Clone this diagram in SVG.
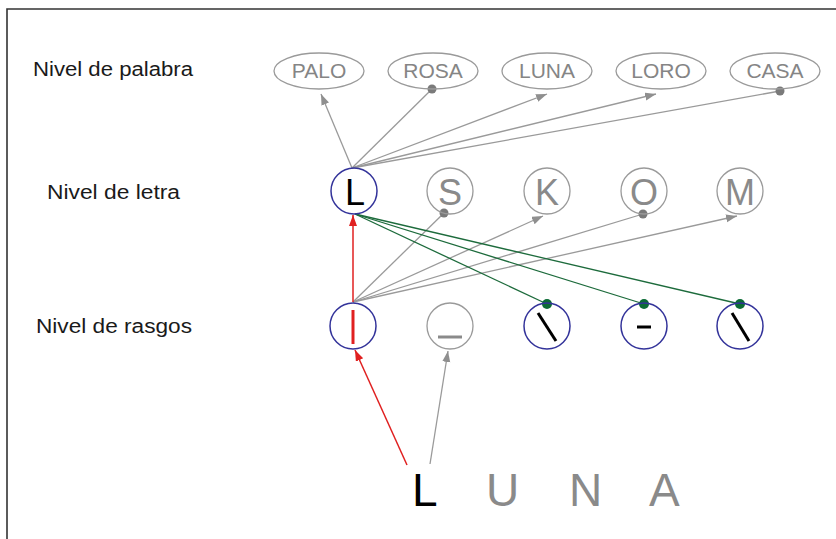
<svg xmlns="http://www.w3.org/2000/svg" width="836" height="539" viewBox="0 0 836 539">
  <style>
    .lbl { font-family: "Liberation Sans", Arial, sans-serif; font-size: 20px; fill: #1a1a1a; }
    .word { fill: none; stroke: #9a9a9a; stroke-width: 1.3; }
    .wtxt { font-family: "Liberation Sans", Arial, sans-serif; font-size: 21px; fill: #858585; text-anchor: middle; }
    .ltr-on { fill: none; stroke: #33339a; stroke-width: 1.5; }
    .ltr-off { fill: none; stroke: #9a9a9a; stroke-width: 1.3; }
    .ltxt { font-family: "Liberation Sans", Arial, sans-serif; font-size: 36px; text-anchor: middle; }
    .big { font-family: "Liberation Sans", Arial, sans-serif; font-size: 46px; fill: #8a8a8a; }
    .gray { stroke: #9a9a9a; stroke-width: 1.3; fill: none; }
    .green { stroke: #1d6b3c; stroke-width: 1.3; fill: none; }
    .red { stroke: #e02020; stroke-width: 1.5; fill: none; }
    .gdot { fill: #7a7a7a; }
    .ndot { fill: #0b6b35; }
  </style>
  <defs>
    <marker id="ag" markerUnits="userSpaceOnUse" markerWidth="12" markerHeight="9" refX="11" refY="4" orient="auto">
      <path d="M0,0 L11,4 L0,8 z" fill="#8f8f8f"/>
    </marker>
    <marker id="ar" markerUnits="userSpaceOnUse" markerWidth="12" markerHeight="9" refX="11" refY="4" orient="auto">
      <path d="M0,0 L11,4 L0,8 z" fill="#e02020"/>
    </marker>
  </defs>

  <rect width="836" height="539" fill="#ffffff"/>
  <!-- frame: top and left edges -->
  <path d="M7,539 V9 H836" fill="none" stroke="#333" stroke-width="1.6"/>

  <!-- level labels -->
  <text class="lbl" x="33" y="76" textLength="160" lengthAdjust="spacingAndGlyphs">Nivel de palabra</text>
  <text class="lbl" x="47" y="199" textLength="133" lengthAdjust="spacingAndGlyphs">Nivel de letra</text>
  <text class="lbl" x="36" y="333" textLength="156" lengthAdjust="spacingAndGlyphs">Nivel de rasgos</text>

  <!-- connectors -->
  <g id="connectors">
    <!-- letter L to words -->
    <line class="gray" x1="352" y1="168" x2="321" y2="94" marker-end="url(#ag)"/>
    <line class="gray" x1="352" y1="168" x2="432" y2="89"/>
    <line class="gray" x1="352" y1="168" x2="547" y2="94" marker-end="url(#ag)"/>
    <line class="gray" x1="352" y1="168" x2="656" y2="94" marker-end="url(#ag)"/>
    <line class="gray" x1="352" y1="168" x2="780" y2="91"/>
    <!-- feature | to letters -->
    <line class="gray" x1="353" y1="302" x2="444" y2="213"/>
    <line class="gray" x1="353" y1="302" x2="543" y2="216" marker-end="url(#ag)"/>
    <line class="gray" x1="353" y1="302" x2="643" y2="214"/>
    <line class="gray" x1="353" y1="302" x2="737" y2="216" marker-end="url(#ag)"/>
    <!-- inhibitory links from L to features -->
    <line class="green" x1="355" y1="214" x2="547" y2="304"/>
    <line class="green" x1="355" y1="214" x2="644" y2="304"/>
    <line class="green" x1="355" y1="214" x2="740" y2="304"/>
    <!-- active path -->
    <line class="red" x1="353" y1="302" x2="353" y2="215" marker-end="url(#ar)"/>
    <line class="red" x1="407" y1="465" x2="355" y2="350" marker-end="url(#ar)"/>
    <line class="gray" x1="430" y1="464" x2="448" y2="351" marker-end="url(#ag)"/>
    <!-- endpoint dots -->
    <circle class="gdot" cx="432" cy="89" r="4.5"/>
    <circle class="gdot" cx="780" cy="91" r="4.5"/>
    <circle class="gdot" cx="444" cy="213" r="4.5"/>
    <circle class="gdot" cx="643" cy="214" r="4.5"/>
    <circle class="ndot" cx="547" cy="304" r="5"/>
    <circle class="ndot" cx="644" cy="304" r="5"/>
    <circle class="ndot" cx="740" cy="304" r="5"/>
  </g>

  <!-- word level -->
  <g id="w-palo"><ellipse class="word" cx="319" cy="71" rx="45" ry="18"/><text class="wtxt" x="319" y="78">PALO</text></g>
  <g id="w-rosa"><ellipse class="word" cx="433" cy="71" rx="45" ry="18"/><text class="wtxt" x="433" y="78">ROSA</text></g>
  <g id="w-luna"><ellipse class="word" cx="547" cy="71" rx="45" ry="18"/><text class="wtxt" x="547" y="78">LUNA</text></g>
  <g id="w-loro"><ellipse class="word" cx="661" cy="71" rx="45" ry="18"/><text class="wtxt" x="661" y="78">LORO</text></g>
  <g id="w-casa"><ellipse class="word" cx="775" cy="71" rx="45" ry="18"/><text class="wtxt" x="775" y="78">CASA</text></g>

  <!-- letter level -->
  <g id="l-L"><circle class="ltr-on" cx="354" cy="191" r="23"/><text class="ltxt" x="355" y="205" fill="#000">L</text></g>
  <g id="l-S"><circle class="ltr-off" cx="450" cy="191" r="23"/><text class="ltxt" x="450" y="205" fill="#8a8a8a">S</text></g>
  <g id="l-K"><circle class="ltr-off" cx="547" cy="191" r="23"/><text class="ltxt" x="547" y="205" fill="#8a8a8a">K</text></g>
  <g id="l-O"><circle class="ltr-off" cx="644" cy="191" r="23"/><text class="ltxt" x="644" y="205" fill="#8a8a8a">O</text></g>
  <g id="l-M"><circle class="ltr-off" cx="740" cy="191" r="23"/><text class="ltxt" x="740" y="205" fill="#8a8a8a">M</text></g>

  <!-- feature level -->
  <g id="f-vert"><circle class="ltr-on" cx="353" cy="326" r="23"/><line x1="353" y1="310" x2="353" y2="344" stroke="#e02020" stroke-width="3"/></g>
  <g id="f-horiz"><circle class="ltr-off" cx="450" cy="326" r="23"/><line x1="438" y1="337" x2="462" y2="337" stroke="#8a8a8a" stroke-width="3"/></g>
  <g id="f-diag1"><circle class="ltr-on" cx="547" cy="326" r="23"/><line x1="538" y1="313" x2="556" y2="341" stroke="#000" stroke-width="3"/></g>
  <g id="f-dash"><circle class="ltr-on" cx="644" cy="326" r="23"/><line x1="637" y1="327" x2="651" y2="327" stroke="#000" stroke-width="3"/></g>
  <g id="f-diag2"><circle class="ltr-on" cx="740" cy="326" r="23"/><line x1="732" y1="313" x2="749" y2="341" stroke="#000" stroke-width="3"/></g>

  <!-- input word -->
  <g id="input">
    <text class="big" x="412" y="506" style="fill:#000">L</text>
    <text class="big" x="486" y="506">U</text>
    <text class="big" x="569" y="506">N</text>
    <text class="big" x="649" y="506">A</text>
  </g>
</svg>
